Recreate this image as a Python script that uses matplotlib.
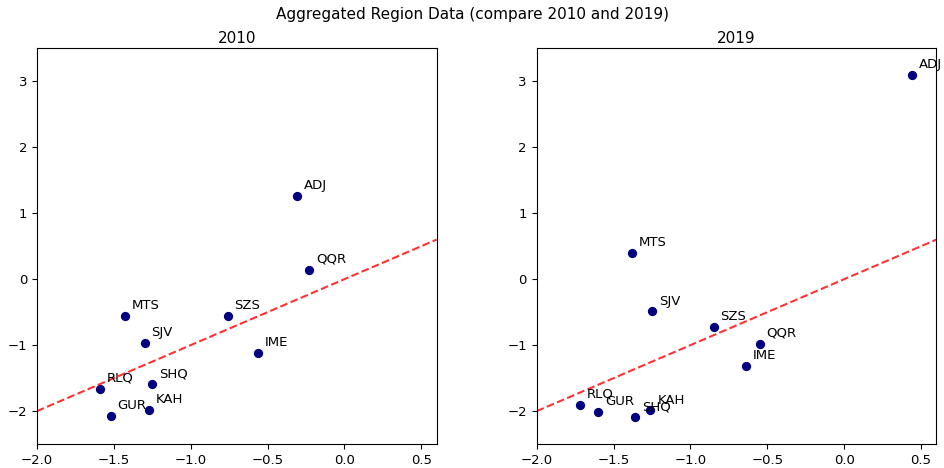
import matplotlib.pyplot as plt

# datos
regiones = ['ADJ', 'QQR', 'MTS', 'SZS', 'SJV', 'IME', 'RLQ', 'SHQ', 'GUR', 'KAH']

x_2010 = [-0.31, -0.23, -1.43, -0.76, -1.30, -0.56, -1.59, -1.25, -1.52, -1.27]
y_2010 = [1.26, 0.14, -0.56, -0.56, -0.97, -1.12, -1.66, -1.59, -2.07, -1.98]

x_2019 = [0.44, -0.55, -1.38, -0.85, -1.25, -0.64, -1.72, -1.36, -1.60, -1.26]
y_2019 = [3.09, -0.98, 0.40, -0.72, -0.49, -1.32, -1.90, -2.09, -2.01, -1.99]

linea_ref = [-2.0, 0.6]

fig, axes = plt.subplots(1, 2, figsize=(9.45, 4.68), dpi=100)
fig.subplots_adjust(left=0.039, right=0.991, top=0.897, bottom=0.051, wspace=0.25)

for ax, xs, ys, titulo in zip(axes, [x_2010, x_2019], [y_2010, y_2019], ['2010', '2019']):
    ax.scatter(xs, ys, color='navy', s=32, zorder=3)
    for nombre, xv, yv in zip(regiones, xs, ys):
        ax.annotate(nombre, (xv, yv), textcoords='offset points', xytext=(5, 5), fontsize=9.5)
    ax.plot(linea_ref, linea_ref, color='red', linestyle='--', linewidth=1.5, alpha=0.8)
    ax.set_xlim(-2.0, 0.6)
    ax.set_ylim(-2.5, 3.5)
    ax.set_title(titulo, fontsize=11, pad=4)
    ax.tick_params(labelsize=9.5)

fig.suptitle('Aggregated Region Data (compare 2010 and 2019)', fontsize=11, y=0.985)

plt.savefig('out.png')
